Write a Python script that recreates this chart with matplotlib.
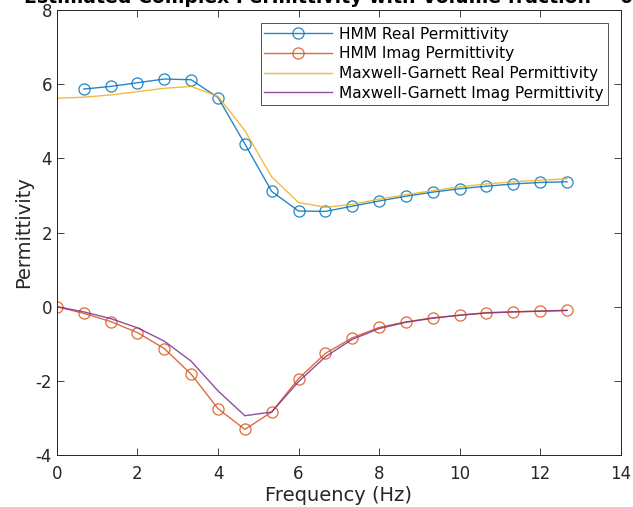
import numpy as np
import matplotlib
matplotlib.use('Agg')
import matplotlib.pyplot as plt

plt.rcParams['axes.unicode_minus'] = False

# Frequencies (Hz) - 20 points, step 2/3
freq = [0, 0.667, 1.333, 2.0, 2.667, 3.333, 4.0, 4.667, 5.333, 6.0,
        6.667, 7.333, 8.0, 8.667, 9.333, 10.0, 10.667, 11.333, 12.0, 12.667]

# HMM estimates (first real value missing)
hmm_real = [np.nan, 5.87, 5.94, 6.04, 6.14, 6.12, 5.64, 4.39, 3.11, 2.58,
            2.57, 2.71, 2.85, 2.98, 3.09, 3.18, 3.25, 3.31, 3.35, 3.37]
hmm_imag = [0.0, -0.18, -0.40, -0.70, -1.13, -1.82, -2.75, -3.31, -2.84, -1.94,
            -1.26, -0.84, -0.56, -0.41, -0.30, -0.23, -0.16, -0.14, -0.12, -0.10]

# Maxwell-Garnett model
mg_real = [5.62, 5.65, 5.71, 5.80, 5.89, 5.94, 5.67, 4.75, 3.50, 2.81,
           2.68, 2.76, 2.90, 3.02, 3.13, 3.23, 3.31, 3.37, 3.41, 3.45]
mg_imag = [0.0, -0.14, -0.32, -0.57, -0.93, -1.47, -2.27, -2.94, -2.84, -2.02,
           -1.35, -0.88, -0.59, -0.42, -0.31, -0.23, -0.17, -0.14, -0.12, -0.10]

c_blue = '#0072BD'
c_red = '#D95319'
c_yel = '#EDB120'
c_pur = '#7E2F8E'
txt = '#262626'

fig = plt.figure(figsize=(6.33, 5.07), dpi=100)
ax = fig.add_axes([0.090, 0.1025, 0.8905, 0.8777])

ax.plot(freq, hmm_real, '-o', color=c_blue, linewidth=1, markersize=8,
        markerfacecolor='none', markeredgewidth=0.9, alpha=0.85, label='HMM Real Permittivity')
ax.plot(freq, hmm_imag, '-o', color=c_red, linewidth=1, markersize=8,
        markerfacecolor='none', markeredgewidth=0.9, alpha=0.85, label='HMM Imag Permittivity')
ax.plot(freq, mg_real, '-', color=c_yel, linewidth=1, alpha=0.85,
        label='Maxwell-Garnett Real Permittivity')
ax.plot(freq, mg_imag, '-', color=c_pur, linewidth=1, alpha=0.85,
        label='Maxwell-Garnett Imag Permittivity')

ax.set_xlim(0, 14)
ax.set_ylim(-4, 8)
ax.set_xticks(np.arange(0, 15, 2))
ax.set_yticks(np.arange(-4, 9, 2))
ax.tick_params(direction='in', top=True, right=True, labelsize=12, colors=txt,
               length=5, width=0.6)
ax.tick_params(axis='x', pad=7)
for s in ax.spines.values():
    s.set_color(txt)
    s.set_linewidth(0.7)

ax.set_xlabel('Frequency (Hz)', fontsize=14, color=txt, labelpad=2)
ax.set_ylabel('Permittivity', fontsize=14, color=txt, labelpad=2)
ax.set_title('Estimated Complex Permittivity with Volume fraction = 0.3',
             fontsize=13.6, fontweight='bold', color='black', pad=5)

leg = ax.legend(loc='upper right', bbox_to_anchor=(0.977, 0.971), fontsize=11.1,
                frameon=True, fancybox=False, borderpad=0.25, labelspacing=0.3,
                handlelength=4.4, handletextpad=0.45, borderaxespad=0)
leg.get_frame().set_edgecolor(txt)
leg.get_frame().set_linewidth(0.7)

fig.savefig('out.png', dpi=100)
